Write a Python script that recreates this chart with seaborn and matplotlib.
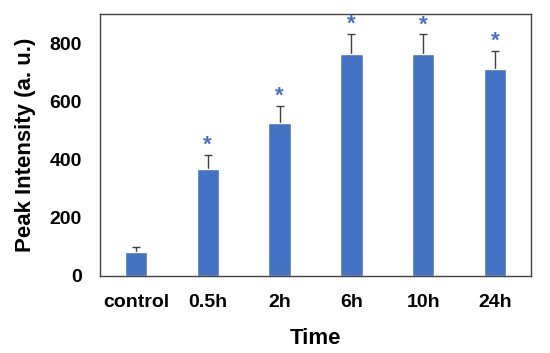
import matplotlib
matplotlib.use('Agg')
import matplotlib.pyplot as plt
import pandas as pd
import seaborn as sns

# Data
groups = ['control', '0.5h', '2h', '6h', '10h', '24h']
intensity = [81, 366, 527, 761, 764, 711]
errors = [18, 51, 58, 72, 67, 62]
significant = [False, True, True, True, True, True]

bar_color = '#4472C4'

sns.set_style('white')
plt.rcParams['font.family'] = ['Liberation Sans', 'DejaVu Sans']
plt.rcParams['font.weight'] = 'bold'
plt.rcParams['text.color'] = 'black'
plt.rcParams['axes.labelcolor'] = 'black'
plt.rcParams['xtick.labelcolor'] = 'black'
plt.rcParams['ytick.labelcolor'] = 'black'

df = pd.DataFrame({'group': groups, 'value': intensity, 'err': errors})

fig = plt.figure(figsize=(5.5, 3.53), dpi=100)
ax = fig.add_axes([100 / 550, 1 - 276 / 353, 431 / 550, 262 / 353])

# error bars first so the bars hide the lower half
ax.errorbar(range(len(groups)), df['value'], yerr=df['err'],
            fmt='none', ecolor='#404040', elinewidth=1, capsize=3, capthick=1, zorder=1)

sns.barplot(data=df, x='group', y='value', color=bar_color, width=0.31,
            saturation=1, errorbar=None, ax=ax, zorder=2)

# significance stars
for i, (v, e, s) in enumerate(zip(intensity, errors, significant)):
    if s:
        ax.text(i, v + e - 4, '*', ha='center', va='bottom', color=bar_color,
                fontsize=16, fontweight='bold')

ax.set_xlim(-0.5, len(groups) - 0.5)
ax.set_ylim(0, 900)
ax.set_yticks([0, 200, 400, 600, 800])
ax.set_xticks(range(len(groups)))
ax.set_xticklabels(groups)
ax.set_xticks([i + 0.5 for i in range(-1, len(groups))], minor=True)
ax.tick_params(axis='x', which='major', length=0, pad=13, labelsize=14)
ax.tick_params(axis='x', which='minor', length=5, width=1, direction='out', color='#404040')
ax.tick_params(axis='y', length=5, width=1, direction='out', color='#404040',
               labelsize=14, pad=8)
for lbl in ax.get_xticklabels() + ax.get_yticklabels():
    lbl.set_fontweight('bold')

for sp in ax.spines.values():
    sp.set_color('#404040')
    sp.set_linewidth(1)

ax.set_xlabel('Time', fontsize=16, fontweight='bold', labelpad=12)
ax.set_ylabel('Peak Intensity (a. u.)', fontsize=16, fontweight='bold', labelpad=10)

fig.savefig('out.png', dpi=100)
